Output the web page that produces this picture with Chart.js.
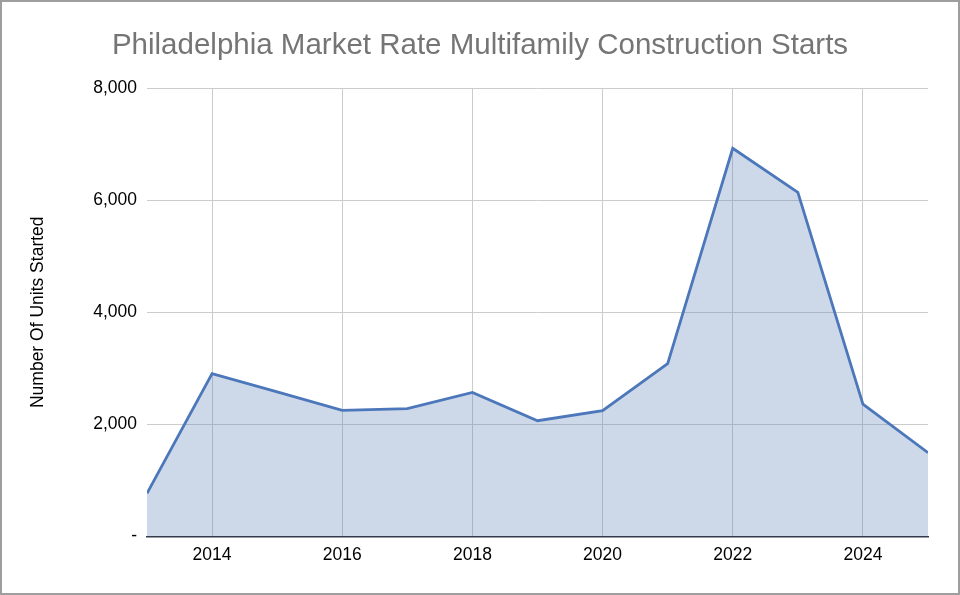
<!DOCTYPE html>
<html>
<head>
<meta charset="utf-8">
<script src="https://cdn.jsdelivr.net/npm/chart.js@4"></script>
<style>
  html, body { margin: 0; padding: 0; background: #fff; }
  #wrap { position: relative; width: 960px; height: 595px; }
  #frame { position: absolute; left: 0; top: 0; width: 960px; height: 595px;
           box-sizing: border-box; border: 2px solid #9e9e9e; pointer-events: none; }
</style>
</head>
<body>
<div id="wrap">
  <canvas id="startsChart" width="960" height="595"></canvas>
  <div id="frame"></div>
</div>
<script>
// Philadelphia market rate multifamily construction starts, by year
const years = [2013, 2014, 2015, 2016, 2017, 2018, 2019, 2020, 2021, 2022, 2023, 2024, 2025];
const unitsStarted = [770, 2905, 2580, 2250, 2280, 2570, 2065, 2245, 3085, 6925, 6140, 2360, 1495];
const xTicks = [2014, 2016, 2018, 2020, 2022, 2024];
const yTicks = [0, 2000, 4000, 6000, 8000];
const chartTitle = 'Philadelphia Market Rate Multifamily Construction Starts';

const FONT = 'Liberation Sans, Arial, Helvetica, sans-serif';

const points = years.map((yr, i) => ({ x: yr, y: unitsStarted[i] }));

// title is centred on the whole picture, not on the chart box
const pageTitle = {
    id: 'pageTitle',
    afterDraw(chart) {
        const c = chart.ctx;
        c.save();
        c.font = '29.5px ' + FONT;
        c.fillStyle = '#757575';
        c.textAlign = 'center';
        c.textBaseline = 'alphabetic';
        c.fillText(chartTitle, 480, 54);
        c.restore();
    }
};

new Chart(document.getElementById('startsChart'), {
    type: 'line',
    data: {
        datasets: [{
            label: 'Units Started',
            data: points,
            borderColor: '#4c77ba',
            borderWidth: 2.8,
            backgroundColor: 'rgba(88, 125, 182, 0.3)',
            fill: 'origin',
            pointRadius: 0,
            tension: 0
        }]
    },
    plugins: [pageTitle],
    options: {
        responsive: false,
        animation: false,
        devicePixelRatio: 1,
        layout: { padding: { left: 0, right: 32, top: 88, bottom: 35 } },
        plugins: {
            legend: { display: false },
            tooltip: { enabled: false },
            title: { display: false }
        },
        scales: {
            x: {
                type: 'linear',
                min: years[0],
                max: years[years.length - 1],
                afterBuildTicks: s => { s.ticks = xTicks.map(v => ({ value: v })); },
                grid: { color: '#cccccc', drawTicks: false, lineWidth: 1 },
                border: { display: true, color: '#333a48', width: 1.5 },
                ticks: {
                    padding: 8,
                    color: '#000',
                    font: { family: FONT, size: 17.5 },
                    callback: v => String(v)
                },
                afterFit: s => { s.height = 23.5; }
            },
            y: {
                min: yTicks[0],
                max: yTicks[yTicks.length - 1],
                afterBuildTicks: s => { s.ticks = yTicks.map(v => ({ value: v })); },
                grid: { color: ctx => ctx.tick && ctx.tick.value === 0 ? 'rgba(0,0,0,0)' : '#cccccc', drawTicks: false },
                border: { display: false },
                ticks: {
                    padding: 10,
                    color: '#000',
                    font: { family: FONT, size: 17.5 },
                    callback: v => v === 0 ? '-' : v.toLocaleString('en-US')
                },
                title: {
                    display: true,
                    text: 'Number Of Units Started',
                    color: '#000',
                    font: { family: FONT, size: 17.5 },
                    padding: { top: 28, bottom: 0 }
                },
                afterFit: s => { s.width = 147; }
            }
        }
    }
});
</script>
</body>
</html>
